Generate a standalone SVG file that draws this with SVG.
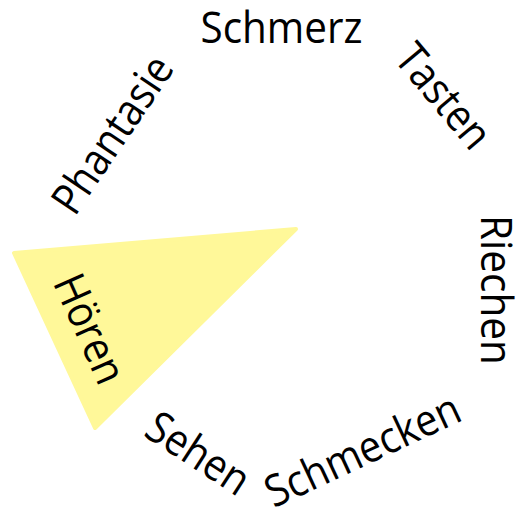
<svg xmlns="http://www.w3.org/2000/svg" width="522" height="520" viewBox="0 0 522 520">
<style>
.w{font-family:"Open Sans","Noto Sans","Liberation Sans",sans-serif;font-size:44px;fill:#000;text-anchor:middle}
.tri{fill:#FFF899;stroke:#FFF899;stroke-width:4;stroke-linejoin:round}
</style>
<rect width="522" height="520" fill="#fff"/>
<g id="triangle"><polygon class="tri" points="14,253 296,229 95,428"/></g>
<g id="connectors"/>
<g id="schmerz"><text class="w" x="281.5" y="43" textLength="162" lengthAdjust="spacingAndGlyphs">Schmerz</text></g>
<g id="tasten"><text class="w" transform="translate(432,106) rotate(50)" textLength="122" lengthAdjust="spacingAndGlyphs">Tasten</text></g>
<g id="riechen"><text class="w" transform="translate(481,290) rotate(90)" textLength="150" lengthAdjust="spacingAndGlyphs">Riechen</text></g>
<g id="schmecken"><text class="w" transform="translate(369,464) rotate(-25)" textLength="210" lengthAdjust="spacingAndGlyphs">Schmecken</text></g>
<g id="sehen"><text class="w" transform="translate(190,466) rotate(33)" textLength="114" lengthAdjust="spacingAndGlyphs">Sehen</text></g>
<g id="hoeren"><text class="w" transform="translate(76,335) rotate(66)" textLength="115" lengthAdjust="spacingAndGlyphs">Hören</text></g>
<g id="phantasie"><text class="w" transform="translate(125,143) rotate(-56)" textLength="180" lengthAdjust="spacingAndGlyphs">Phantasie</text></g>
</svg>
